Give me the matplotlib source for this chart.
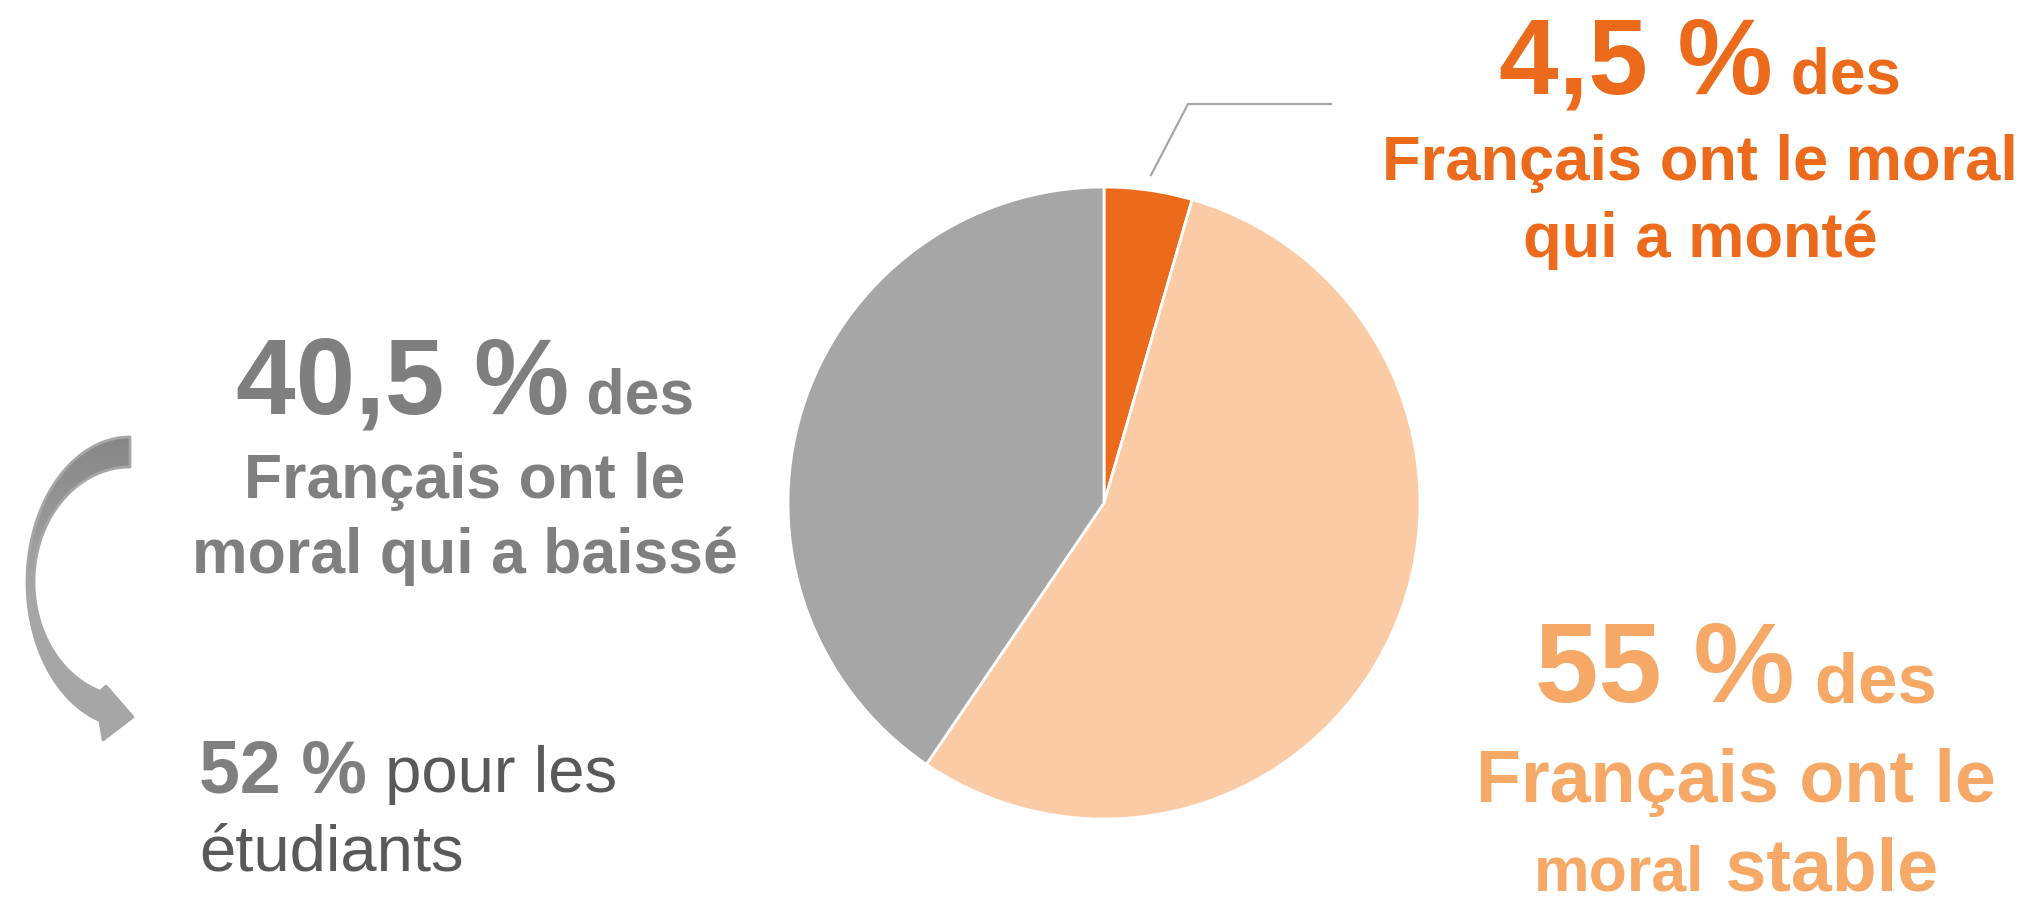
import numpy as np
import matplotlib
matplotlib.use("Agg")
import matplotlib.pyplot as plt
from matplotlib.path import Path
from matplotlib.patches import PathPatch
from matplotlib.colors import LinearSegmentedColormap

W, H = 2032, 897

# data
categories = ["a monté", "stable", "a baissé"]
shares = [4.5, 55, 40.5]
share_labels = ["4,5 %", "55 %", "40,5 %"]
students_share = "52 %"
wedge_colors = ["#EC6A1C", "#FBCBA5", "#A6A6A6"]

orange_txt = "#EC6A1C"
peach_txt = "#F6A866"
gray_txt = "#7F7F7F"
dark_txt = "#595959"

plt.rcParams["font.family"] = ["Liberation Sans", "DejaVu Sans"]

fig = plt.figure(figsize=(W / 100, H / 100), dpi=100)
ax = fig.add_axes([0, 0, 1, 1])

# pie (pixel coordinates, y up)
cx, cy, r = 1104, H - 503, 316
ax.pie(shares, colors=wedge_colors, startangle=90, counterclock=False,
       center=(cx, cy), radius=r,
       wedgeprops=dict(edgecolor="white", linewidth=2))
ax.set_xlim(0, W)
ax.set_ylim(0, H)
ax.set_aspect("auto")
ax.axis("off")

# leader line for the small slice
mid = np.deg2rad(90 - shares[0] * 3.6 / 2)
sx, sy = cx + 1.045 * r * np.cos(mid), cy + 1.045 * r * np.sin(mid)
ax.plot([sx, 1188, 1332], [sy, H - 104, H - 104], color="#A6A6A6", lw=1.6,
        solid_capstyle="butt", zorder=3)

renderer = fig.canvas.get_renderer()


def line(runs, x, base, align="center"):
    y = H - base
    objs = []
    for s, size, weight, color in runs:
        objs.append(ax.text(0, y, s, fontsize=size, fontweight=weight,
                            color=color, va="baseline", ha="left"))
    widths = [t.get_window_extent(renderer).width for t in objs]
    pos = x - sum(widths) / 2 if align == "center" else x
    for t, w in zip(objs, widths):
        t.set_x(pos)
        pos += w


# orange block
line([(share_labels[0], 77, "bold", orange_txt), (" des", 46, "bold", orange_txt)], 1700, 93)
line([("Français ont le moral", 45.5, "bold", orange_txt)], 1700, 180)
line([("qui a monté", 45.5, "bold", orange_txt)], 1700, 257)

# gray block
line([(share_labels[2], 77, "bold", gray_txt), (" des", 45, "bold", gray_txt)], 465, 413)
line([("Français ont le", 45, "bold", gray_txt)], 465, 498)
line([("moral qui a baissé", 45, "bold", gray_txt)], 465, 573)

# peach block
line([(share_labels[1], 82, "bold", peach_txt), (" des", 51, "bold", peach_txt)], 1736, 702)
line([("Français ont le", 53, "bold", peach_txt)], 1736, 802)
line([("moral", 45, "bold", peach_txt), (" stable", 53, "bold", peach_txt)], 1736, 890)

# students
line([(students_share, 53, "bold", gray_txt), (" pour les", 47, "normal", dark_txt)], 199, 792, align="left")
line([("étudiants", 47, "normal", dark_txt)], 199, 870, align="left")

# curved arrow (y-down pixel geometry converted to y-up)
th_o = np.deg2rad(np.linspace(90, 253, 80))
outer = np.c_[130 + 103 * np.cos(th_o), 582 - 145 * np.sin(th_o)]
th_i = np.deg2rad(np.linspace(252, 90, 80))
inner = np.c_[130 + 96 * np.cos(th_i), 582 - 115 * np.sin(th_i)]
head = np.array([[103, 740], [133, 717], [106, 686]])
pts = np.vstack([outer, head, inner, outer[:1]])
pts[:, 1] = H - pts[:, 1]
codes = [Path.MOVETO] + [Path.LINETO] * (len(pts) - 2) + [Path.CLOSEPOLY]
arrow = PathPatch(Path(pts, codes), facecolor="none", edgecolor="#A6A6A6",
                  lw=2, joinstyle="round", zorder=4)
ax.add_patch(arrow)
cmap = LinearSegmentedColormap.from_list("g", ["#858585", "#A6A6A6", "#A6A6A6"])
grad = np.linspace(0, 1, 200).reshape(-1, 1)
img = ax.imshow(grad, cmap=cmap, extent=(20, 140, H - 745, H - 430),
                origin="upper", aspect="auto", zorder=3, interpolation="bilinear")
img.set_clip_path(arrow)
ax.set_xlim(0, W)
ax.set_ylim(0, H)

fig.savefig("out.png", dpi=100, facecolor="white")
